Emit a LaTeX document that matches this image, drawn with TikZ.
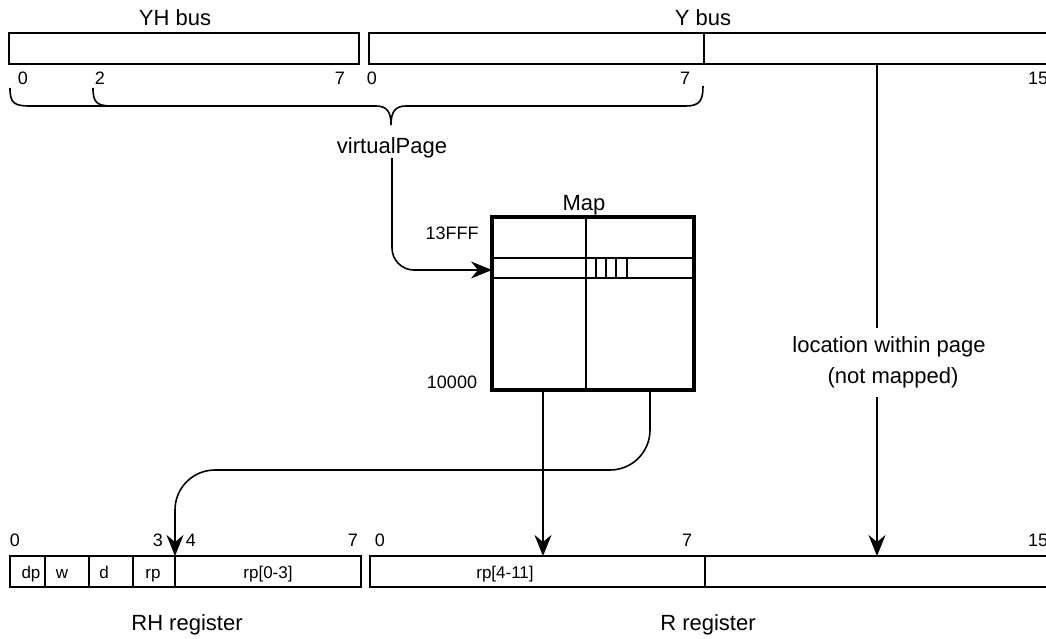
\documentclass[tikz,border=0pt]{standalone}
\usepackage{fontspec}
\setmainfont{Liberation Sans}
\usetikzlibrary{arrows.meta}
\tikzset{
  lbl/.style={inner sep=0pt,font=\fontsize{22}{24}\selectfont},
  bitno/.style={inner sep=0pt,font=\fontsize{18}{20}\selectfont},
  field/.style={inner sep=0pt,anchor=base,font=\fontsize{17}{19}\selectfont},
  wire/.style={line width=1.6pt},
  tip/.style={-{Stealth[length=21pt,width=17pt,inset=7pt]}},
}
\begin{document}
\begin{tikzpicture}[x=1pt,y=-1pt]
\useasboundingbox (0,0) rectangle (1046,639);
% buses at the top:
\path[draw=black,wire] (9,33) rectangle (359,64);
\path[draw=black,wire] (369,33) rectangle (1060,64);
\path[draw=black,wire] (704,33) -- (704,64);
\node[lbl] (yhbus) at (175,18) {YH bus};
\node[lbl] (ybus) at (703,18) {Y bus};
\node[bitno] (yh0) at (23,78) {0};
\node[bitno] (yh2) at (100,78) {2};
\node[bitno] (yh7) at (340,78) {7};
\node[bitno] (y0) at (372,78) {0};
\node[bitno] (y7) at (685,78) {7};
\node[bitno] (y15) at (1038,78) {15};
% braces:
\path[draw=black,wire] (10,88) .. controls (10,103) and (14,106) .. (30,106) -- (376,106)
  .. controls (387,106) and (391,112) .. (391,125)
  .. controls (391,112) and (395,106) .. (406,106) -- (686,106)
  .. controls (700,106) and (703,100) .. (703,86);
\path[draw=black,wire] (93,88) .. controls (93,103) and (97,106) .. (113,106);
\node[lbl] (vpage) at (392,148) {virtualPage};
% the map:
\node[lbl] (maplbl) at (584,205) {Map};
\node[bitno] (top) at (452,233) {13FFF};
\node[bitno] (bot) at (452,382) {10000};
\path[draw=black,line width=3.5pt] (492,217) rectangle (694,390);
\path[draw=black,wire] (586,217) -- (586,390);
\path[draw=black,wire] (492,258) -- (694,258);
\path[draw=black,wire] (492,278) -- (694,278);
\foreach \x in {596,606,616,627}
  \path[draw=black,wire] (\x,258) -- (\x,278);
\coordinate (mapin) at (492,270);
\coordinate (mapoutA) at (543,390);
\coordinate (mapoutB) at (650,390);
% registers at the bottom:
\path[draw=black,wire] (10,556) rectangle (361,587);
\foreach \x in {45,89,133,175}
  \path[draw=black,wire] (\x,556) -- (\x,587);
\path[draw=black,wire] (370,556) rectangle (1060,587);
\path[draw=black,wire] (705,556) -- (705,587);
\node[bitno] (rh0) at (15,540) {0};
\node[bitno] (rh3) at (158,540) {3};
\node[bitno] (rh4) at (191,540) {4};
\node[bitno] (rh7) at (353,540) {7};
\node[bitno] (r0) at (380,540) {0};
\node[bitno] (r7) at (687,540) {7};
\node[bitno] (r15) at (1038,540) {15};
\node[field] (dp) at (31,578) {dp};
\node[field] (w) at (62,578) {w};
\node[field] (d) at (104,578) {d};
\node[field] (rp) at (153,578) {rp};
\node[field] (rplo) at (268,578) {rp[0-3]};
\node[field] (rphi) at (505,578) {rp[4-11]};
\node[lbl] (rhreg) at (187,625) {RH register};
\node[lbl] (rreg) at (708,625) {R register};
\coordinate (rhin) at (175,556);
\coordinate (rin) at (543,556);
\coordinate (locin) at (877,556);
\coordinate (yout) at (877,64);
% location text and arrows:
\node[lbl] (loc) at (889,347) {location within page};
\node[lbl] (notm) at (893,378) {(not mapped)};
\path[draw=black,wire,tip,rounded corners=22pt] (392,158) -- (392,270) -- (mapin);
\path[draw=black,wire,tip] (mapoutA) -- (rin);
\path[draw=black,wire,tip,rounded corners=40pt] (mapoutB) -- (650,470) -- (175,470) -- (rhin);
\path[draw=black,wire] (yout) -- (877,328);
\path[draw=black,wire,tip] (877,397) -- (locin);
\end{tikzpicture}
\end{document}
